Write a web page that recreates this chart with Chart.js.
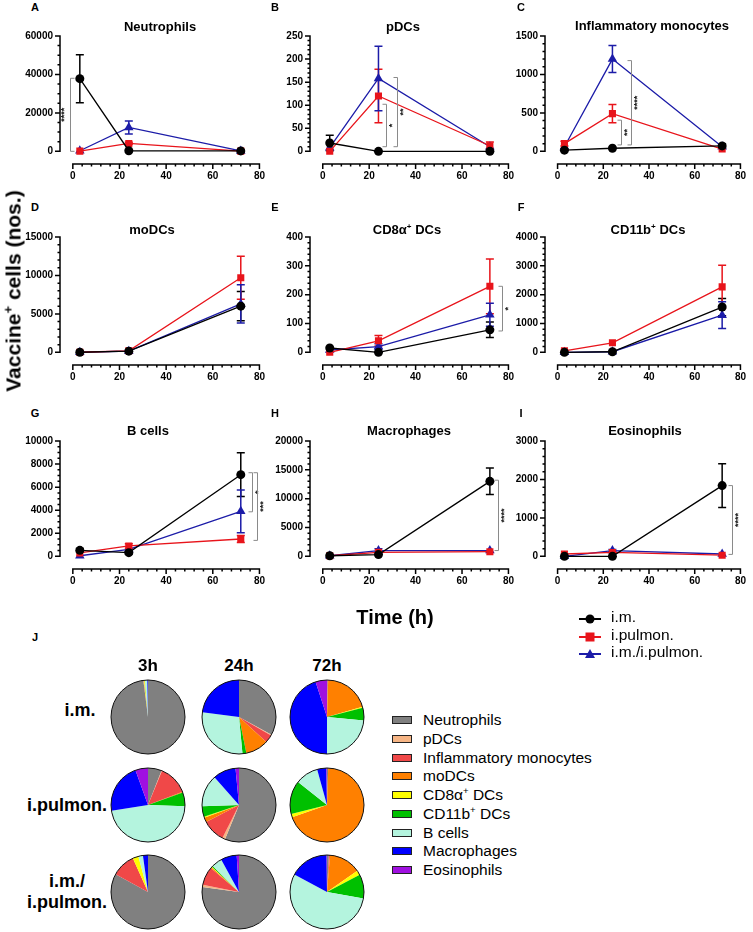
<!DOCTYPE html>
<html>
<head>
<meta charset="utf-8">
<script src="https://cdn.jsdelivr.net/npm/chart.js@4.4.0/dist/chart.umd.min.js"></script>
<style>
  body { margin: 0; background: #fff; font-family: "Liberation Sans", Arial, sans-serif; }
  #fig { position: relative; width: 753px; height: 932px; overflow: hidden; }
  #fig canvas { position: absolute; }
  .lbl { position: absolute; white-space: nowrap; color: #000; line-height: 1; transform: translate(-50%, -50%); }
  .b { font-weight: bold; }
  sup { font-size: 0.62em; line-height: 0; vertical-align: 0.6em; }
  .leg { position: absolute; white-space: nowrap; font-size: 15.5px; line-height: 1; transform: translateY(-50%); }
  .box { position: absolute; width: 18px; height: 6px; border: 1.5px solid #222; transform: translateY(-50%); }
</style>
</head>
<body>
<div id="fig"></div>
<script>
// time points (h)
const times = [3, 24, 72];

// panels A..I
const panelLetters = ['A', 'B', 'C', 'D', 'E', 'F', 'G', 'H', 'I'];
const panelNames = ['Neutrophils', 'pDCs', 'Inflammatory monocytes', 'moDCs', 'CD8&alpha;<sup>+</sup> DCs',
                    'CD11b<sup>+</sup> DCs', 'B cells', 'Macrophages', 'Eosinophils'];
const yMax   = [60000, 250, 1500, 15000, 400, 4000, 10000, 20000, 3000];
const yStep  = [20000, 50, 500, 5000, 100, 1000, 2000, 5000, 1000];
const yMinor = [5000, 10, 100, 1000, 20, 200, 500, 1000, 200];
const xTicks = [0, 20, 40, 60, 80];

// means / SEM per panel, at 3h, 24h, 72h
const imMean = [[37800, 300, 200], [18, 0, 0], [15, 40, 70], [10, 150, 6000], [15, 0, 78],
                [0, 20, 1570], [520, 320, 7080], [100, 300, 13000], [0, 0, 1840]];
const imErr  = [[12500, 0, 0], [17, 0, 0], [0, 0, 30], [0, 0, 1900], [0, 0, 27],
                [0, 0, 300], [150, 100, 1900], [0, 0, 2300], [0, 0, 570]];
const pulMean = [[100, 4100, 100], [0, 120, 12], [100, 490, 30], [10, 200, 9700], [0, 40, 229],
                 [50, 330, 2270], [300, 900, 1500], [100, 700, 800], [60, 100, 30]];
const pulErr  = [[0, 600, 0], [0, 58, 8], [30, 120, 0], [0, 0, 2800], [0, 18, 95],
                 [0, 0, 750], [0, 200, 300], [0, 0, 0], [0, 0, 0]];
const comboMean = [[300, 12400, 200], [8, 158, 10], [60, 1200, 60], [10, 150, 6300], [8, 20, 130],
                   [0, 20, 1290], [50, 600, 3900], [100, 1000, 1000], [0, 150, 60]];
const comboErr  = [[0, 3400, 0], [0, 70, 0], [0, 175, 0], [0, 0, 2500], [0, 10, 40],
                   [0, 0, 460], [0, 0, 1850], [0, 300, 0], [0, 30, 0]];

// significance brackets
const sigPanel  = [0, 1, 1, 2, 2, 4, 6, 6, 7, 8];
const sigX      = [-1, 27.3, 32, 27.8, 32, 77.2, 77, 79, 75.5, 76.5];
const sigTop    = [38000, 102, 160, 405, 1180, 229, 7250, 7250, 13200, 1840];
const sigBottom = [0, 10, 10, 83, 83, 74, 3860, 1380, 1000, 50];
const sigLabel  = ['****', '*', '**', '**', '****', '*', '*', '***', '****', '****'];

// J: composition (%), order = cellTypes
const cellTypes = ['Neutrophils', 'pDCs', 'Inflammatory monocytes', 'moDCs', 'CD8&alpha;<sup>+</sup> DCs',
                   'CD11b<sup>+</sup> DCs', 'B cells', 'Macrophages', 'Eosinophils'];
const pieTimes = ['3h', '24h', '72h'];
const pieGroups = ['i.m.', 'i.pulmon.', 'i.m./<br>i.pulmon.'];
const pieIm     = [[98, 0.1, 0.1, 0.1, 0.3, 0.1, 1.0, 0.3, 0],
                   [33, 0.3, 3.5, 10, 0, 1.7, 28.5, 23, 0],
                   [0.3, 0, 0.2, 20, 0.5, 5.5, 23.5, 45, 5]];
const piePulmon = [[6, 0.2, 13, 0.3, 0, 6, 47, 22, 5.5],
                   [56, 1.2, 10, 2, 0.5, 4.5, 14, 10, 1.5],
                   [0.5, 0, 0, 69, 1.5, 14.5, 10, 4, 0.3]];
const pieCombo  = [[83, 0, 10.3, 0, 2.5, 0, 2, 2.2, 0],
                   [77, 1, 8, 0.5, 0.3, 0.5, 4.5, 7, 1],
                   [0.8, 0, 0.5, 14, 2, 10.5, 55, 17, 0.2]];

// ---- styles / layout ----
const cellColors = ['#808080', '#f6b585', '#f04848', '#ff8000', '#ffff00', '#00c000', '#b4f4de', '#0000ff', '#a010e0'];
const RED = '#e8141b', BLUE = '#1c1ca8';
const areaLeft = [60, 310, 545], areaRight = [261, 510, 746];
const areaTop = [29, 230, 434], areaH = 135;
const tickFont = { family: '"Liberation Sans", Arial, sans-serif', size: 10, weight: 'bold' };

const fig = document.getElementById('fig');

function addLabel(html, x, y, size, bold, extra) {
  const d = document.createElement('div');
  d.className = 'lbl' + (bold ? ' b' : '');
  d.style.left = x + 'px';
  d.style.top = y + 'px';
  d.style.fontSize = size + 'px';
  if (extra) d.style.cssText += extra;
  d.innerHTML = html;
  fig.appendChild(d);
  return d;
}

// GraphPad-like detached axes with minor ticks
const gpAxes = {
  id: 'gpAxes',
  afterDraw(chart, args, opts) {
    const p = opts.panel;
    const { ctx, chartArea, scales: { x, y } } = chart;
    ctx.save();
    ctx.strokeStyle = '#000';
    ctx.lineWidth = 1.5;
    ctx.beginPath();
    const xl = chartArea.left, yb = chartArea.bottom;
    ctx.moveTo(xl, y.getPixelForValue(0) + 0.75);
    ctx.lineTo(xl, y.getPixelForValue(yMax[p]) - 0.75);
    ctx.moveTo(x.getPixelForValue(0) - 0.75, yb);
    ctx.lineTo(x.getPixelForValue(80) + 0.75, yb);
    for (let v = 0; v <= yMax[p] + 1e-9; v += yMinor[p]) {
      const major = Math.abs(v / yStep[p] - Math.round(v / yStep[p])) < 1e-6;
      const py = y.getPixelForValue(v);
      ctx.moveTo(xl, py);
      ctx.lineTo(xl - (major ? 5 : 2.5), py);
    }
    for (let v = 0; v <= 80; v += 4) {
      const major = v % 20 === 0;
      const px = x.getPixelForValue(v);
      ctx.moveTo(px, yb);
      ctx.lineTo(px, yb + (major ? 5 : 2.5));
    }
    ctx.stroke();
    ctx.restore();
  }
};

const errorBars = {
  id: 'errorBars',
  beforeDatasetsDraw(chart) {
    const { ctx, scales: { y } } = chart;
    chart.data.datasets.forEach((ds, i) => {
      const meta = chart.getDatasetMeta(i);
      ctx.save();
      ctx.strokeStyle = ds.borderColor;
      ctx.lineWidth = 1.5;
      ctx.beginPath();
      meta.data.forEach((pt, j) => {
        const e = ds.errs[j];
        if (!e) return;
        const v = ds.data[j].y;
        const yt = y.getPixelForValue(v + e), yb = y.getPixelForValue(v - e);
        ctx.moveTo(pt.x, yt); ctx.lineTo(pt.x, yb);
        ctx.moveTo(pt.x - 4, yt); ctx.lineTo(pt.x + 4, yt);
        ctx.moveTo(pt.x - 4, yb); ctx.lineTo(pt.x + 4, yb);
      });
      ctx.stroke();
      ctx.restore();
    });
  }
};

const sigBrackets = {
  id: 'sigBrackets',
  afterDraw(chart, args, opts) {
    const { ctx, scales: { x, y } } = chart;
    sigPanel.forEach((p, k) => {
      if (p !== opts.panel) return;
      const dir = sigX[k] < 3 ? 1 : -1;
      const px = Math.round(x.getPixelForValue(sigX[k])) + 0.5;
      const yt = y.getPixelForValue(sigTop[k]), yb = y.getPixelForValue(sigBottom[k]);
      ctx.save();
      ctx.strokeStyle = '#8a8a8a';
      ctx.lineWidth = 1;
      ctx.beginPath();
      ctx.moveTo(px + dir * 4, yt); ctx.lineTo(px, yt); ctx.lineTo(px, yb); ctx.lineTo(px + dir * 4, yb);
      ctx.stroke();
      ctx.translate(px - dir * 6, (yt + yb) / 2);
      ctx.rotate(-Math.PI / 2);
      ctx.fillStyle = '#222';
      ctx.font = 'bold 9px "Liberation Sans", Arial, sans-serif';
      ctx.textAlign = 'center';
      ctx.textBaseline = 'middle';
      ctx.fillText(sigLabel[k], 0, 0);
      ctx.restore();
    });
  }
};

function series(label, mean, err, color, style, r) {
  return {
    label: label,
    data: times.map((t, i) => ({ x: t, y: mean[i] })),
    errs: err,
    borderColor: color,
    backgroundColor: color,
    borderWidth: 1.3,
    pointStyle: style,
    pointRadius: r,
    pointBorderWidth: 0,
    tension: 0
  };
}

function makePanel(p) {
  const col = p % 3, row = Math.floor(p / 3);
  const yw = 50, pt = 6, xh = 24, pr = col === 2 ? 6 : 10;
  const cv = document.createElement('canvas');
  cv.width = areaRight[col] - areaLeft[col] + yw + pr;
  cv.height = areaH + pt + xh;
  cv.style.left = (areaLeft[col] - yw) + 'px';
  cv.style.top = (areaTop[row] - pt) + 'px';
  fig.appendChild(cv);
  const yTickVals = [];
  for (let v = 0; v <= yMax[p]; v += yStep[p]) yTickVals.push(v);
  new Chart(cv, {
    type: 'line',
    data: {
      datasets: [
        series('i.m.', imMean[p], imErr[p], '#000', 'circle', 4.5),
        series('i.pulmon.', pulMean[p], pulErr[p], RED, 'rect', 5),
        series('i.m./i.pulmon.', comboMean[p], comboErr[p], BLUE, 'triangle', 5.5)
      ]
    },
    options: {
      responsive: false,
      animation: false,
      events: [],
      layout: { padding: { top: pt, right: pr, left: 0, bottom: 0 } },
      plugins: { legend: { display: false }, tooltip: { enabled: false },
                 gpAxes: { panel: p }, sigBrackets: { panel: p } },
      scales: {
        x: {
          type: 'linear', min: -5.5, max: 80,
          afterBuildTicks: s => { s.ticks = xTicks.map(v => ({ value: v })); },
          afterFit: s => { s.height = xh; },
          grid: { display: false, drawTicks: false },
          border: { display: false },
          ticks: { padding: 6, font: tickFont, color: '#000', maxRotation: 0, autoSkip: false, callback: v => String(v) }
        },
        y: {
          type: 'linear', min: -yMax[p] * 0.11, max: yMax[p],
          afterBuildTicks: s => { s.ticks = yTickVals.map(v => ({ value: v })); },
          afterFit: s => { s.width = yw; },
          grid: { display: false, drawTicks: false },
          border: { display: false },
          ticks: { padding: 7, font: tickFont, color: '#000', autoSkip: false, callback: v => String(v) }
        }
      }
    },
    plugins: [gpAxes, errorBars, sigBrackets]
  });
  addLabel(panelLetters[p], [35, 275, 521][col], [7, 207, 413][row], 11, true);
  addLabel(panelNames[p], [[160, 403, 652], [152, 407, 648], [148, 409, 645]][row][col],
           [[26, 26, 25], [229, 229, 229], [430, 430, 430]][row][col], 13, true);
}

for (let p = 0; p < 9; p++) makePanel(p);

addLabel('Vaccine<sup>+</sup> cells (nos.)', 13, 291, 21, true, 'transform:translate(-50%,-50%) rotate(-90deg);');
addLabel('Time (h)', 395, 617, 20, true);

// line legend
const legSeries = [['i.m.', '#000', 'circle'], ['i.pulmon.', RED, 'rect'], ['i.m./i.pulmon.', BLUE, 'tri']];
legSeries.forEach((s, i) => {
  const y = 617 + i * 17.5;
  let mk = '';
  if (s[2] === 'circle') mk = `<circle cx="11" cy="6" r="4.5" fill="${s[1]}"/>`;
  if (s[2] === 'rect') mk = `<rect x="6.5" y="1.5" width="9" height="9" fill="${s[1]}"/>`;
  if (s[2] === 'tri') mk = `<polygon points="11,1 16,10 6,10" fill="${s[1]}"/>`;
  const d = document.createElement('div');
  d.style.cssText = `position:absolute;left:579px;top:${y - 6}px;width:22px;height:12px;`;
  d.innerHTML = `<svg width="22" height="12"><line x1="0" y1="6" x2="22" y2="6" stroke="${s[1]}" stroke-width="2"/>${mk}</svg>`;
  fig.appendChild(d);
  const t = document.createElement('div');
  t.className = 'leg';
  t.style.left = '611px';
  t.style.top = y + 'px';
  t.textContent = s[0];
  fig.appendChild(t);
});

// J: pies
addLabel('J', 35, 637, 11, true);
const pieCX = [148, 239, 327], pieCY = [717, 805, 892];
pieTimes.forEach((t, c) => addLabel(t, pieCX[c], 665, 17, true));
addLabel(pieGroups[0], 80, 710, 18, true);
addLabel(pieGroups[1], 67, 805, 18, true);
addLabel(pieGroups[2], 67, 892, 18, true, 'text-align:center;line-height:21px;');

const pieOutline = {
  id: 'pieOutline',
  afterDatasetsDraw(chart) {
    const arc = chart.getDatasetMeta(0).data[0];
    const ctx = chart.ctx;
    ctx.save();
    ctx.strokeStyle = '#111';
    ctx.lineWidth = 1;
    ctx.beginPath();
    ctx.arc(arc.x, arc.y, arc.outerRadius, 0, Math.PI * 2);
    ctx.stroke();
    ctx.restore();
  }
};

[pieIm, piePulmon, pieCombo].forEach((grp, r) => {
  grp.forEach((vals, c) => {
    const cv = document.createElement('canvas');
    cv.width = 80; cv.height = 80;
    cv.style.left = (pieCX[c] - 40) + 'px';
    cv.style.top = (pieCY[r] - 40) + 'px';
    fig.appendChild(cv);
    new Chart(cv, {
      type: 'pie',
      data: { labels: cellTypes, datasets: [{ data: vals, backgroundColor: cellColors, borderWidth: 0, radius: 37 }] },
      options: { responsive: false, animation: false, events: [],
                 plugins: { legend: { display: false }, tooltip: { enabled: false } } },
      plugins: [pieOutline]
    });
  });
});

// pie legend
cellTypes.forEach((name, i) => {
  const y = 720 + i * 18.75;
  const b = document.createElement('div');
  b.className = 'box';
  b.style.left = '392px';
  b.style.top = y + 'px';
  b.style.background = cellColors[i];
  fig.appendChild(b);
  const t = document.createElement('div');
  t.className = 'leg';
  t.style.left = '423px';
  t.style.top = y + 'px';
  t.innerHTML = name;
  fig.appendChild(t);
});
</script>
</body>
</html>
